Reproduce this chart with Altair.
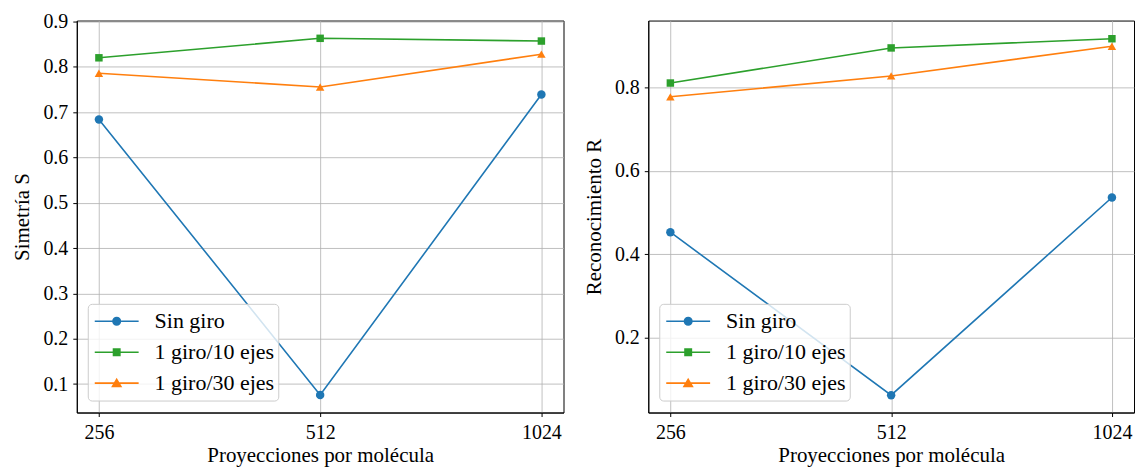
import altair as alt
import pandas as pd

# ---- data ----
proyecciones = [256, 512, 1024]
series = ["Sin giro", "1 giro/10 ejes", "1 giro/30 ejes"]
colores = ["#1f77b4", "#2ca02c", "#ff7f0e"]
marcadores = ["circle", "square", "triangle-up"]

sim_sin_giro = [0.684, 0.076, 0.739]
sim_giro10 = [0.820, 0.863, 0.857]
sim_giro30 = [0.786, 0.7555, 0.828]

rec_sin_giro = [0.453, 0.063, 0.536]
rec_giro10 = [0.810, 0.894, 0.916]
rec_giro30 = [0.777, 0.827, 0.898]

sim_ticks = [0.1, 0.2, 0.3, 0.4, 0.5, 0.6, 0.7, 0.8, 0.9]
rec_ticks = [0.2, 0.4, 0.6, 0.8]
x_ticks = [256, 512, 1024]

FONT = "Liberation Serif"

# legend symbols: line with marker
legend_paths = [
    "M-1,0H1M0.17,0A0.17,0.17,0,1,1,-0.17,0A0.17,0.17,0,1,1,0.17,0Z",
    "M-1,0H1M-0.145,-0.145H0.145V0.145H-0.145Z",
    "M-1,0H1M0,-0.17L0.19,0.15L-0.19,0.15Z",
]
marker_sizes = [72, 56, 72]


def long_df(vals):
    rows = []
    for s, v in zip(series, vals):
        for p, y in zip(proyecciones, v):
            rows.append({"proj": p, "val": y, "serie": s})
    return pd.DataFrame(rows)


def panel(vals, ydomain, yticks, ytitle, width):
    df = long_df(vals)
    xenc = alt.X(
        "proj:Q",
        scale=alt.Scale(type="log", base=2, domain=[256 * 2 ** -0.1, 1024 * 2 ** 0.1], nice=False),
        axis=alt.Axis(values=x_ticks, format="d", title="Proyecciones por molécula",
                      labelFlush=False, labelOverlap=False, labelFont=FONT),
    )
    yenc = alt.Y(
        "val:Q",
        scale=alt.Scale(domain=ydomain, nice=False, zero=False),
        axis=alt.Axis(values=yticks, format=".1f", title=ytitle, labelOverlap=False,
                      labelFont=FONT),
    )
    base = alt.Chart(df)
    layers = []
    for s, c in zip(series, colores):
        layers.append(
            base.mark_line(strokeWidth=1.6, color=c)
            .encode(x=xenc, y=yenc)
            .transform_filter(alt.datum.serie == s)
        )
    for s, c, m, sz in zip(series, colores, marcadores, marker_sizes):
        layers.append(
            base.mark_point(filled=True, opacity=1, shape=m, size=sz, color=c)
            .encode(x=xenc, y=yenc)
            .transform_filter(alt.datum.serie == s)
        )
    leg = alt.Legend(
        title=None, orient="none", legendX=11, legendY=284,
        symbolSize=1936, symbolStrokeWidth=1.6, symbolOpacity=1, symbolOffset=2,
        labelFont=FONT, labelFontSize=22, labelColor="black", labelOffset=15,
        clipHeight=27, rowPadding=4, padding=4,
        fillColor="rgba(255,255,255,0.8)", strokeColor="#cccccc", cornerRadius=4,
    )
    legend_layer = base.mark_point(filled=True, opacity=1).encode(
        x=xenc, y=yenc,
        color=alt.Color("serie:N", scale=alt.Scale(domain=series, range=colores), legend=leg),
        stroke=alt.Stroke("serie:N", scale=alt.Scale(domain=series, range=colores), legend=leg),
        shape=alt.Shape("serie:N", scale=alt.Scale(domain=series, range=legend_paths), legend=leg),
    ).transform_filter("false")
    layers.append(legend_layer)
    return alt.layer(*layers).properties(width=width, height=393)


left = panel([sim_sin_giro, sim_giro10, sim_giro30], [0.0371, 0.9022], sim_ticks, "Simetría S", 488)
right = panel([rec_sin_giro, rec_giro10, rec_giro30], [0.0214, 0.9595], rec_ticks, "Reconocimiento R", 487)

chart = (
    alt.hconcat(left, right, spacing=18)
    .resolve_scale(color="independent", stroke="independent", shape="independent")
    .resolve_legend(color="independent", stroke="independent", shape="independent")
    .properties(padding={"left": 11, "top": 10, "right": 0, "bottom": 0})
    .configure(font=FONT)
    .configure_view(stroke="black", strokeWidth=1)
    .configure_axis(
        domainColor="black", domainWidth=1, tickColor="black", tickSize=4, tickWidth=1,
        gridColor="#b0b0b0", gridWidth=0.8,
        labelFont=FONT, labelFontSize=20, labelColor="black", labelPadding=5,
        titleFont=FONT, titleFontSize=21, titleFontWeight="normal", titleColor="black",
        titlePadding=10,
    )
    .configure_axisX(labelPadding=6, titlePadding=2)
    .configure_legend(labelFont=FONT, labelFontSize=22, labelColor="black")
)

chart.save("out.html", embed_options={"renderer": "svg", "actions": False})
